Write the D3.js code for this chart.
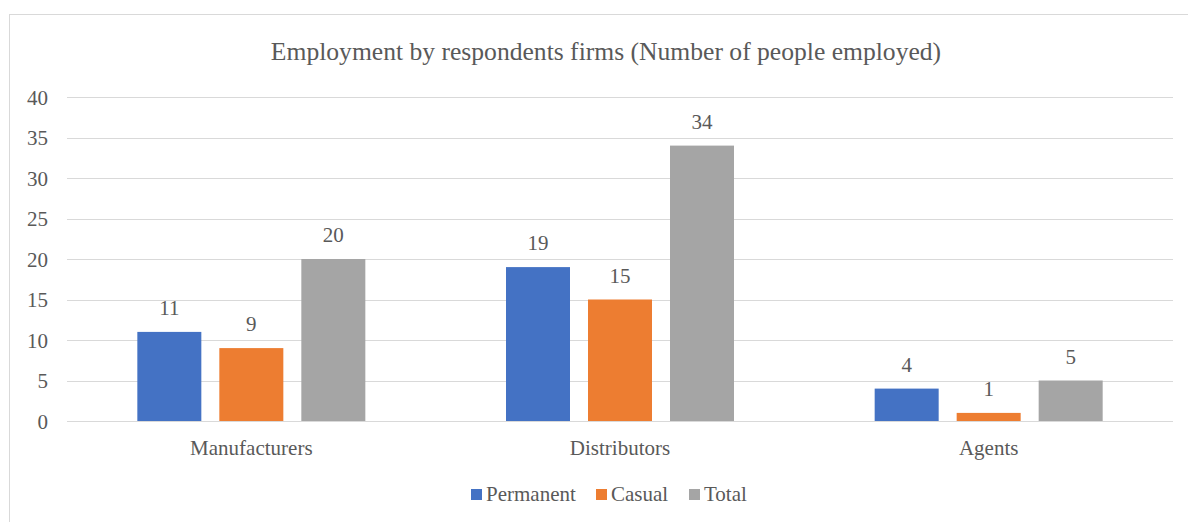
<!DOCTYPE html>
<html>
<head>
<meta charset="utf-8">
<script src="https://cdn.jsdelivr.net/npm/d3@7"></script>
<style>
  html, body { margin: 0; padding: 0; background: #fff; }
</style>
</head>
<body>
<svg id="chart" width="1188" height="522" font-family="Liberation Serif"></svg>
<script>
// Employment figures per firm type
const categories = ["Manufacturers", "Distributors", "Agents"];
const seriesNames = ["Permanent", "Casual", "Total"];
const permanent = [11, 19, 4];
const casual = [9, 15, 1];
const total = [20, 34, 5];
const yTicks = [0, 5, 10, 15, 20, 25, 30, 35, 40];
const colors = ["#4472C4", "#ED7D31", "#A5A5A5"];

const FONT = "Liberation Serif";
const TEXT = "#595959";
const LABEL_SIZE = 21;
const TITLE_SIZE = 25.6;

const seriesValues = [permanent, casual, total];
const rows = categories.map((c, i) => ({
  category: c,
  values: seriesNames.map((s, j) => ({ series: s, value: seriesValues[j][i], color: colors[j] }))
}));

const svg = d3.select("#chart");
const W = 1188, H = 522;
const plot = { left: 67, right: 1173, top: 97, bottom: 421 };

function styleText(sel, size) {
  return sel.attr("font-family", FONT).attr("font-size", size).attr("fill", TEXT);
}

// outer frame
svg.append("rect")
  .attr("x", 9.5).attr("y", 14.5)
  .attr("width", W + 20).attr("height", H + 20)
  .attr("fill", "none").attr("stroke", "#d9d9d9").attr("stroke-width", 1);

// title
styleText(svg.append("text"), TITLE_SIZE)
  .attr("x", 606).attr("y", 60)
  .attr("text-anchor", "middle")
  .text("Employment by respondents firms (Number of people employed)");

const x0 = d3.scaleBand().domain(categories).range([plot.left, plot.right]).paddingInner(0).paddingOuter(0);
const groupWidth = 228;
const x1 = d3.scaleBand().domain(seriesNames).range([0, groupWidth]).paddingInner(18 / 82).paddingOuter(0);
const y = d3.scaleLinear().domain([0, 40]).range([plot.bottom, plot.top]);

// gridlines
svg.append("g").selectAll("line").data(yTicks).join("line")
  .attr("x1", plot.left).attr("x2", plot.right)
  .attr("y1", d => Math.round(y(d)) + 0.5).attr("y2", d => Math.round(y(d)) + 0.5)
  .attr("stroke", "#d9d9d9").attr("stroke-width", 1);

// y tick labels
const yAxis = d3.axisLeft(y).tickValues(yTicks).tickSize(0).tickPadding(0);
const yg = svg.append("g").attr("transform", `translate(${plot.left - 19},0)`).call(yAxis)
  .attr("font-family", FONT).attr("font-size", LABEL_SIZE);
yg.select(".domain").remove();
styleText(yg.selectAll("text"), LABEL_SIZE).attr("dy", "0.35em");

// x category labels
const xAxis = d3.axisBottom(x0).tickSize(0).tickPadding(0);
const xg = svg.append("g").attr("transform", `translate(0,${plot.bottom + 18})`).call(xAxis)
  .attr("font-family", FONT).attr("font-size", LABEL_SIZE);
xg.select(".domain").remove();
styleText(xg.selectAll("text"), LABEL_SIZE).attr("dy", "0.75em");

// bars and value labels
const groups = svg.append("g").selectAll("g").data(rows).join("g")
  .attr("transform", d => `translate(${x0(d.category) + (x0.bandwidth() - groupWidth) / 2},0)`);

groups.selectAll("rect").data(d => d.values).join("rect")
  .attr("x", d => x1(d.series))
  .attr("y", d => y(d.value))
  .attr("width", x1.bandwidth())
  .attr("height", d => y(0) - y(d.value))
  .attr("fill", d => d.color);

styleText(groups.selectAll("text.val").data(d => d.values).join("text"), LABEL_SIZE)
  .attr("class", "val")
  .attr("x", d => x1(d.series) + x1.bandwidth() / 2)
  .attr("y", d => y(d.value) - 17)
  .attr("text-anchor", "middle")
  .text(d => d.value);

// legend: swatch + label per series, laid out left to right
const legendX = [471, 596, 689];
const legend = svg.append("g").attr("transform", "translate(0,494)");
seriesNames.forEach((name, i) => {
  const g = legend.append("g").attr("transform", `translate(${legendX[i]},0)`);
  g.append("rect").attr("x", 0).attr("y", -5).attr("width", 11).attr("height", 11).attr("fill", colors[i]);
  styleText(g.append("text"), LABEL_SIZE).attr("x", 15).attr("y", 0).attr("dy", "0.35em").text(name);
});
</script>
</body>
</html>
